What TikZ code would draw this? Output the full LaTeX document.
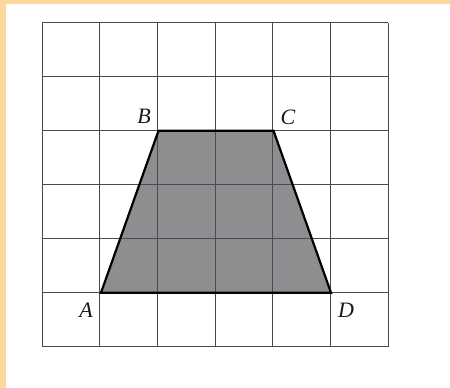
\documentclass[tikz,border=0pt]{standalone}
\usepackage{fontspec}
\setmainfont{Liberation Serif}
\definecolor{frameor}{HTML}{FDD89C}
\definecolor{trapfill}{HTML}{8E8E90}
\definecolor{gridc}{HTML}{4A4A50}
\tikzset{
  gridline/.style={draw=gridc, line width=1pt},
  trap/.style={fill=trapfill, draw=black, line width=2pt, line join=miter},
  vlabel/.style={font=\fontsize{22}{24}\selectfont\itshape, text=black!90, inner sep=0pt}
}
\begin{document}
\begin{tikzpicture}[x=1pt,y=-1pt]
\useasboundingbox (0,0) rectangle (450,388);
\fill[white] (0,0) rectangle (450,388);
\fill[frameor] (0,0) rectangle (450,3.5);
\fill[frameor] (0,0) rectangle (6,388);
% vertices
\coordinate (A) at (101,292.7);
\coordinate (B) at (158.5,130.7);
\coordinate (C) at (273.5,130.7);
\coordinate (D) at (331,292.7);
\fill[trapfill] (A) -- (B) -- (C) -- (D) -- cycle;
% grid
\foreach \i in {0,...,6} {
  \draw[gridline] ({42+\i*57.67},22.7) -- ({42+\i*57.67},346.7);
  \draw[gridline] (42,{22.7+\i*54}) -- (388,{22.7+\i*54});
}
\draw[draw=black, line width=2.2pt, line join=miter] (A) -- (B) -- (C) -- (D) -- cycle;
\node[vlabel] (lA) at (86,310) {A};
\node[vlabel] (lB) at (144,116) {B};
\node[vlabel] (lC) at (288,117) {C};
\node[vlabel] (lD) at (346,310) {D};
\end{tikzpicture}
\end{document}
